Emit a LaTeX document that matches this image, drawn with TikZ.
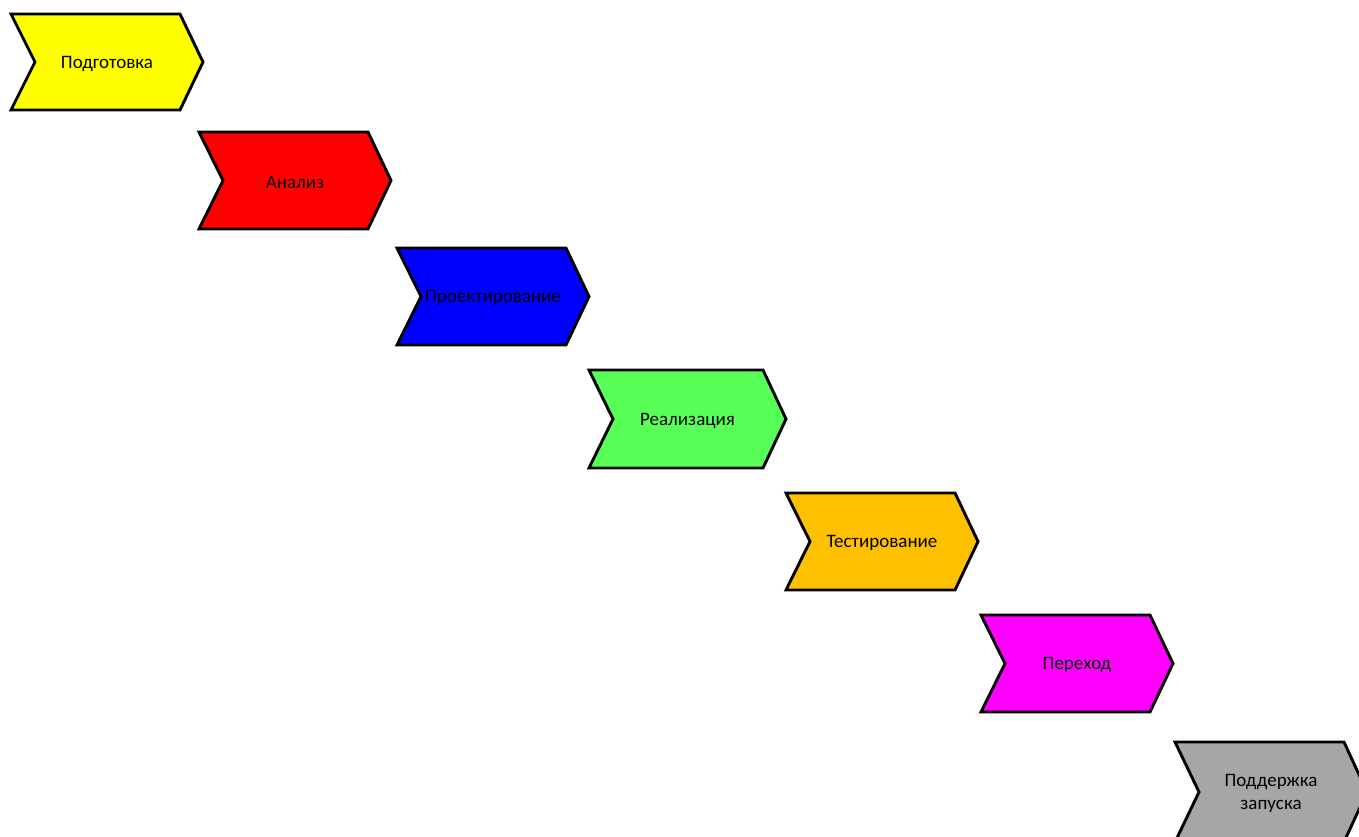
\documentclass[tikz,border=0pt]{standalone}
\usepackage{fontspec}
\setmainfont{Carlito}
\definecolor{cYellow}{HTML}{FFFF00}
\definecolor{cRed}{HTML}{FF0000}
\definecolor{cBlue}{HTML}{0000FF}
\definecolor{cGreen}{HTML}{57FF57}
\definecolor{cOrange}{HTML}{FFC000}
\definecolor{cMagenta}{HTML}{FF00FF}
\definecolor{cGray}{HTML}{A6A6A6}
\tikzset{
  chev/.style={draw=black, line width=2.9pt, line join=miter},
  lbl/.style={font=\fontsize{19}{23}\selectfont, align=center, text=black, inner sep=0pt}
}
% #1 left x, #2 top y, #3 bottom y, #4 colour, #5 name, #6 text, #7 body width
\newcommand{\mychev}[7]{%
  \draw[chev, fill=#4] (#1,#2) -- ++(#7,0) -- ({#1+#7+23},{(#2+#3)/2}) -- ({#1+#7},#3) -- (#1,#3) -- ({#1+24},{(#2+#3)/2}) -- cycle;
  \node[lbl] (#5) at ({#1+(#7+23)/2},{(#2+#3)/2+1.5}) {#6};
}
\begin{document}
\begin{tikzpicture}[x=1pt,y=-1pt]
\useasboundingbox (0,0) rectangle (1359,836);
\fill[white] (0,0) rectangle (1359,836);
\mychev{11}{14}{110}{cYellow}{s1}{Подготовка}{169}
\mychev{199}{132}{229}{cRed}{s2}{Анализ}{169}
\mychev{397}{248}{345}{cBlue}{s3}{Проектирование}{169}
\mychev{589}{370}{468}{cGreen}{s4}{Реализация}{174}
\mychev{786}{493}{590}{cOrange}{s5}{Тестирование}{169}
\mychev{981}{615}{712}{cMagenta}{s6}{Переход}{169}
\begin{scope}
\clip (0,0) rectangle (1359,836);
\mychev{1175}{742}{842}{cGray}{s7}{Поддержка\\[0pt]запуска}{169}
\end{scope}
\end{tikzpicture}
\end{document}
